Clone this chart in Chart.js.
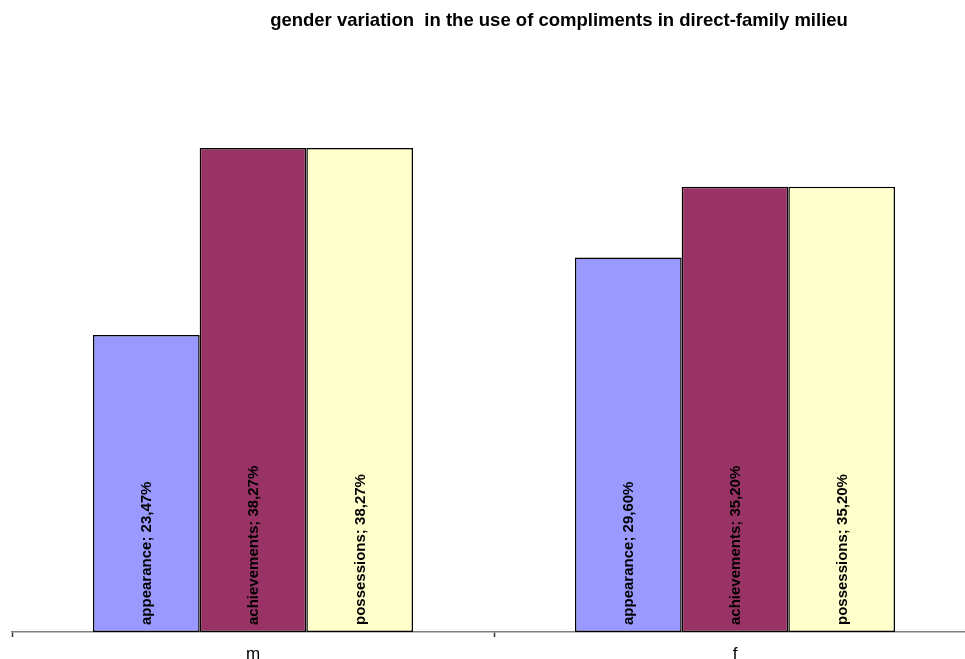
<!DOCTYPE html>
<html>
<head>
<meta charset="utf-8">
<script src="https://cdn.jsdelivr.net/npm/chart.js@4.4.0/dist/chart.umd.min.js"></script>
<style>
  html, body { margin: 0; padding: 0; background: #fff; overflow: hidden; }
  #wrap { position: relative; width: 980px; height: 659px; }
</style>
</head>
<body>
<div id="wrap"><canvas id="chart"></canvas></div>
<script>
// categories and series (percentages)
const categories = ['m', 'f'];
const seriesNames = ['appearance', 'achievements', 'possessions'];
const appearance = [23.47, 29.60];
const achievements = [38.27, 35.20];
const possessions = [38.27, 35.20];
const seriesColors = ['#9999FF', '#993366', '#FFFFCC'];
const chartTitle = 'gender variation  in the use of compliments in direct-family milieu';

const FONT = 'Arial, "Liberation Sans", sans-serif';

// format value like 23,47%
function fmtPct(v) {
  return v.toFixed(2).replace('.', ',') + '%';
}

// vertical labels inside each bar: "name; value"
const barLabels = {
  id: 'barLabels',
  afterDatasetsDraw(chart) {
    const ctx = chart.ctx;
    const bottom = chart.chartArea.bottom;
    chart.data.datasets.forEach((ds, i) => {
      const meta = chart.getDatasetMeta(i);
      meta.data.forEach((bar, j) => {
        ctx.save();
        ctx.translate(bar.x, bottom - 7);
        ctx.rotate(-Math.PI / 2);
        ctx.font = 'bold 15px ' + FONT;
        ctx.fillStyle = '#000';
        ctx.textAlign = 'left';
        ctx.textBaseline = 'middle';
        ctx.fillText(ds.label + '; ' + fmtPct(ds.data[j]), 0, 1);
        ctx.restore();
      });
    });
  }
};

// title sits off-centre, over the right part of the plot
const titleText = {
  id: 'titleText',
  afterDraw(chart) {
    const ctx = chart.ctx;
    ctx.save();
    ctx.font = 'bold 18.5px ' + FONT;
    ctx.fillStyle = '#000';
    ctx.textAlign = 'center';
    ctx.textBaseline = 'alphabetic';
    ctx.fillText(chartTitle, 559, 26);
    ctx.restore();
  }
};

const values = [appearance, achievements, possessions];

new Chart(document.getElementById('chart'), {
  type: 'bar',
  data: {
    labels: categories,
    datasets: seriesNames.map((name, i) => ({
      label: name,
      data: values[i],
      backgroundColor: seriesColors[i],
      borderColor: '#000',
      borderWidth: 1.5,
      borderSkipped: false,
      categoryPercentage: 0.664,
      barPercentage: 1
    }))
  },
  options: {
    responsive: true,
    maintainAspectRatio: false,
    animation: false,
    layout: { padding: { top: 126, left: 12, right: 4, bottom: 0 } },
    plugins: {
      legend: { display: false },
      tooltip: { enabled: false },
      title: { display: false }
    },
    scales: {
      x: {
        offset: true,
        grid: {
          offset: true,
          drawOnChartArea: false,
          drawTicks: true,
          tickLength: 5,
          tickWidth: 1.5,
          tickColor: '#333'
        },
        border: { display: true, color: '#808080', width: 1.5 },
        ticks: {
          color: '#000',
          font: { family: FONT, size: 17 },
          padding: 7
        },
        afterFit(scale) { scale.height = 27; }
      },
      y: {
        display: false,
        min: 0,
        max: 40
      }
    }
  },
  plugins: [barLabels, titleText]
});
</script>
</body>
</html>
